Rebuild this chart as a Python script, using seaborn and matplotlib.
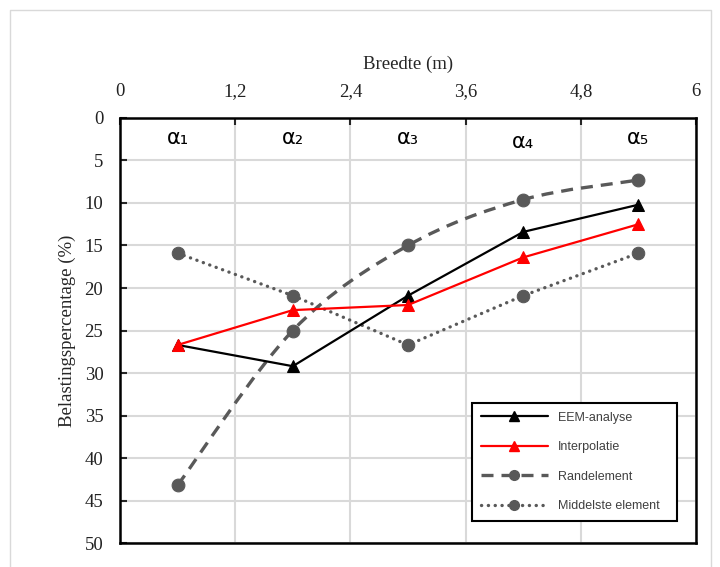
"""Belastingspercentage per strook over de breedte (omgekeerde y-as)."""

import matplotlib.pyplot as plt
import pandas as pd
import seaborn as sns
from matplotlib.lines import Line2D
from matplotlib.patches import PathPatch
from matplotlib.path import Path

# Data
breedte = [0.6, 1.8, 3.0, 4.2, 5.4]
strook_labels = ["α₁", "α₂", "α₃", "α₄", "α₅"]
eem_analyse = [26.7, 29.2, 20.9, 13.4, 10.2]
interpolatie = [26.7, 22.6, 22.0, 16.4, 12.5]
randelement = [43.2, 25.0, 15.0, 9.6, 7.3]
middelste_element = [15.9, 20.9, 26.7, 20.9, 15.9]
x_ticks = [0, 1.2, 2.4, 3.6, 4.8, 6]
x_ticklabels = ["0", "1,2", "2,4", "3,6", "4,8", "6"]

GRAY = "#595959"
DOTS = (0, (0.05, 2.0))
DASH = (0, (3.6, 2.4))


def smooth_path(xs, ys):
    """Excel-achtige vloeiende lijn (Catmull-Rom als Bezier)."""
    pts = list(zip(xs, ys))
    ext = [pts[0]] + pts + [pts[-1]]
    verts = [pts[0]]
    codes = [Path.MOVETO]
    for i in range(1, len(ext) - 2):
        p0, p1, p2, p3 = ext[i - 1], ext[i], ext[i + 1], ext[i + 2]
        c1 = (p1[0] + (p2[0] - p0[0]) / 6, p1[1] + (p2[1] - p0[1]) / 6)
        c2 = (p2[0] - (p3[0] - p1[0]) / 6, p2[1] - (p3[1] - p1[1]) / 6)
        verts += [c1, c2, p2]
        codes += [Path.CURVE4] * 3
    return Path(verts, codes)


def main() -> None:
    sns.set_style("white")
    plt.rcParams["font.family"] = ["Liberation Serif", "DejaVu Serif"]

    fig = plt.figure(figsize=(7.2, 5.67), dpi=100)
    ax = fig.add_axes([0.1667, 0.0423, 0.8, 0.7496])

    # outer frame of the chart area
    fig.add_artist(Line2D([10 / 720, 10 / 720, 711 / 720, 711 / 720],
                          [0, 557 / 567, 557 / 567, 0],
                          transform=fig.transFigure, color="#d9d9d9", lw=1))

    df = pd.DataFrame({"breedte": breedte * 4,
                       "perc": eem_analyse + interpolatie + randelement + middelste_element,
                       "serie": ["EEM-analyse"] * 5 + ["Interpolatie"] * 5
                       + ["Randelement"] * 5 + ["Middelste element"] * 5})

    sns.lineplot(data=df[df.serie == "EEM-analyse"], x="breedte", y="perc",
                 color="black", lw=1.6, marker="^", markersize=9,
                 markeredgecolor="black", ax=ax, zorder=5, legend=False)
    sns.lineplot(data=df[df.serie == "Interpolatie"], x="breedte", y="perc",
                 color="#ff0000", lw=1.6, marker="^", markersize=9,
                 markeredgecolor="#ff0000", ax=ax, zorder=6, legend=False)
    sns.lineplot(data=df[df.serie == "Middelste element"], x="breedte", y="perc",
                 color=GRAY, lw=2.4, marker="o", markersize=9,
                 markeredgecolor=GRAY, ax=ax, zorder=3, legend=False)
    ax.lines[-1].set_linestyle(DOTS)
    ax.lines[-1].set_dash_capstyle("round")
    rand = df[df.serie == "Randelement"]
    sns.scatterplot(data=rand, x="breedte", y="perc", color=GRAY,
                    s=85, edgecolor=GRAY, ax=ax, zorder=4)
    ax.add_patch(PathPatch(smooth_path(breedte, randelement), fill=False,
                           edgecolor=GRAY, lw=2.4, linestyle=DASH, zorder=3))

    for x, lab in zip(breedte, strook_labels):
        ax.text(x, 2.4 if lab != "α₄" else 2.8, lab, ha="center", va="center",
                fontsize=15, family=["DejaVu Sans"], color="black")

    ax.set_xlim(0, 6)
    ax.set_ylim(50, 0)
    ax.set_xticks(x_ticks)
    ax.set_xticklabels(x_ticklabels)
    ax.set_yticks(range(0, 51, 5))
    ax.xaxis.tick_top()
    ax.xaxis.set_label_position("top")
    ax.tick_params(axis="x", direction="in", length=5, width=1.5, labelsize=13.5,
                   pad=13, top=True, bottom=False, labelcolor="#222222")
    ax.tick_params(axis="y", direction="in", length=5, width=1.5, labelsize=13.5,
                   pad=12, left=True, labelcolor="#222222")
    ax.set_xlabel("Breedte (m)", fontsize=13.5, labelpad=10)
    ax.set_ylabel("Belastingspercentage (%)", fontsize=13.5, labelpad=6)
    ax.grid(True, color="#d9d9d9", lw=1.5)
    ax.set_axisbelow(True)
    for sp in ax.spines.values():
        sp.set_color("black")
        sp.set_linewidth(1.8)

    handles = [
        Line2D([], [], color="black", lw=1.6, marker="^", markersize=7),
        Line2D([], [], color="#ff0000", lw=1.6, marker="^", markersize=7),
        Line2D([], [], color=GRAY, lw=2.4, ls=DASH, marker="o", markersize=7),
        Line2D([], [], color=GRAY, lw=2.4, ls=DOTS, marker="o", markersize=7,
               dash_capstyle="round"),
    ]
    leg = ax.legend(handles, ["EEM-analyse", "Interpolatie", "Randelement",
                              "Middelste element"],
                    loc="lower left", bbox_to_anchor=(0.611, 0.052, 0.356, 0.278),
                    mode="expand", fancybox=False, framealpha=1, edgecolor="black",
                    prop={"family": "Liberation Sans", "size": 9}, labelcolor="#404040",
                    handlelength=5.4, labelspacing=1.4, borderpad=0.7,
                    borderaxespad=0)
    leg.get_frame().set_linewidth(1.5)
    leg.set_zorder(10)

    fig.savefig("out.png", dpi=100)


if __name__ == "__main__":
    main()
